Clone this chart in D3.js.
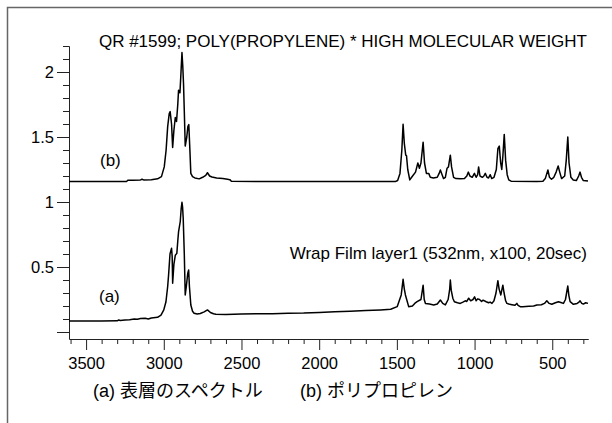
<!DOCTYPE html>
<html>
<head>
<meta charset="utf-8">
<script src="https://cdn.jsdelivr.net/npm/d3@7"></script>
<style>
  body { margin: 0; background: #fff; }
  text { font-family: "Liberation Sans", Arial, "Noto Sans CJK JP", sans-serif; fill: #000; }
</style>
</head>
<body>
<div id="chart"></div>
<script>
// (b) reference spectrum, QR #1599 polypropylene (offset upward)
var wavenumbersB = [3610, 3300, 3240, 3230, 3200, 3150, 3140, 3130, 3080, 3040, 3015, 2997, 2985, 2975, 2965, 2959, 2950, 2943, 2935, 2926, 2918, 2910, 2905, 2896, 2890, 2883, 2878, 2873, 2868, 2862, 2852, 2845, 2839, 2832, 2826, 2815, 2800, 2772, 2750, 2730, 2719, 2705, 2690, 2660, 2620, 2590, 2575, 2565, 2400, 2000, 1510, 1495, 1480, 1468, 1460, 1452, 1443, 1438, 1430, 1417, 1405, 1380, 1365, 1355, 1345, 1331, 1322, 1310, 1295, 1285, 1265, 1240, 1228, 1220, 1212, 1200, 1188, 1177, 1168, 1156, 1148, 1135, 1120, 1090, 1065, 1050, 1040, 1030, 1015, 1001, 990, 980, 974, 965, 950, 940, 931, 920, 910, 899, 890, 875, 860, 850, 841, 832, 825, 818, 809, 800, 790, 780, 765, 600, 560, 545, 528, 518, 505, 490, 475, 462, 452, 440, 420, 410, 400, 392, 380, 365, 345, 330, 321, 312, 300, 270];
var intensityB = [1.157, 1.157, 1.158, 1.168, 1.168, 1.170, 1.175, 1.170, 1.172, 1.178, 1.195, 1.27, 1.40, 1.58, 1.68, 1.695, 1.60, 1.42, 1.55, 1.65, 1.62, 1.75, 1.86, 1.84, 1.98, 2.15, 2.05, 1.91, 1.70, 1.43, 1.50, 1.58, 1.595, 1.40, 1.22, 1.195, 1.185, 1.178, 1.19, 1.205, 1.225, 1.20, 1.192, 1.185, 1.18, 1.175, 1.172, 1.160, 1.157, 1.157, 1.157, 1.165, 1.22, 1.40, 1.598, 1.45, 1.36, 1.356, 1.25, 1.17, 1.19, 1.23, 1.30, 1.26, 1.30, 1.46, 1.30, 1.22, 1.22, 1.19, 1.185, 1.19, 1.22, 1.246, 1.22, 1.18, 1.19, 1.26, 1.27, 1.36, 1.27, 1.19, 1.18, 1.178, 1.18, 1.20, 1.23, 1.20, 1.19, 1.22, 1.19, 1.21, 1.27, 1.20, 1.19, 1.20, 1.22, 1.19, 1.185, 1.21, 1.18, 1.19, 1.25, 1.41, 1.43, 1.30, 1.25, 1.35, 1.52, 1.32, 1.21, 1.17, 1.16, 1.157, 1.16, 1.18, 1.246, 1.19, 1.175, 1.19, 1.23, 1.277, 1.23, 1.18, 1.20, 1.32, 1.50, 1.30, 1.19, 1.17, 1.165, 1.20, 1.23, 1.19, 1.165, 1.162];

// (a) measured spectrum, wrap film surface layer
var wavenumbersA = [3610, 3400, 3300, 3290, 3280, 3250, 3220, 3190, 3170, 3150, 3120, 3100, 3080, 3040, 3018, 3000, 2986, 2975, 2969, 2960, 2950, 2946, 2943, 2935, 2926, 2916, 2910, 2905, 2894, 2888, 2883, 2879, 2875, 2868, 2862, 2855, 2846, 2840, 2835, 2826, 2815, 2805, 2785, 2765, 2740, 2719, 2700, 2680, 2665, 2600, 2500, 2400, 2300, 2200, 2100, 2000, 1900, 1800, 1700, 1605, 1540, 1498, 1472, 1460, 1452, 1445, 1424, 1400, 1385, 1370, 1345, 1331, 1324, 1316, 1290, 1263, 1240, 1220, 1205, 1188, 1170, 1160, 1156, 1150, 1140, 1130, 1110, 1092, 1075, 1060, 1050, 1038, 1025, 1010, 1000, 990, 980, 968, 955, 945, 925, 910, 900, 888, 875, 862, 850, 842, 831, 825, 818, 810, 800, 792, 780, 760, 740, 728, 720, 706, 690, 650, 620, 599, 570, 550, 535, 520, 503, 480, 460, 440, 428, 415, 400, 393, 385, 364, 340, 328, 321, 310, 300, 285, 270];
var intensityA = [0.085, 0.085, 0.086, 0.092, 0.088, 0.092, 0.095, 0.100, 0.098, 0.104, 0.105, 0.100, 0.108, 0.113, 0.13, 0.17, 0.233, 0.35, 0.44, 0.60, 0.644, 0.58, 0.375, 0.52, 0.59, 0.605, 0.70, 0.77, 0.85, 0.95, 0.998, 0.96, 0.875, 0.60, 0.285, 0.35, 0.45, 0.477, 0.35, 0.208, 0.16, 0.144, 0.138, 0.142, 0.155, 0.17, 0.150, 0.140, 0.136, 0.135, 0.138, 0.140, 0.141, 0.145, 0.146, 0.150, 0.155, 0.160, 0.165, 0.170, 0.175, 0.195, 0.285, 0.405, 0.33, 0.285, 0.195, 0.20, 0.22, 0.233, 0.25, 0.36, 0.25, 0.22, 0.215, 0.208, 0.215, 0.246, 0.22, 0.208, 0.25, 0.33, 0.40, 0.32, 0.26, 0.233, 0.225, 0.22, 0.23, 0.24, 0.235, 0.26, 0.24, 0.25, 0.27, 0.24, 0.255, 0.25, 0.235, 0.245, 0.233, 0.225, 0.23, 0.22, 0.24, 0.30, 0.395, 0.33, 0.285, 0.32, 0.36, 0.30, 0.24, 0.22, 0.215, 0.21, 0.205, 0.22, 0.205, 0.195, 0.195, 0.198, 0.20, 0.208, 0.21, 0.22, 0.24, 0.22, 0.213, 0.225, 0.233, 0.225, 0.22, 0.25, 0.354, 0.28, 0.233, 0.213, 0.22, 0.23, 0.24, 0.22, 0.215, 0.225, 0.22];

var xMajorTicks = [3500, 3000, 2500, 2000, 1500, 1000, 500];
var xMinorTicks = [3600, 3400, 3300, 3200, 3100, 2900, 2800, 2700, 2600, 2400, 2300, 2200, 2100, 1900, 1800, 1700, 1600, 1400, 1300, 1200, 1100, 900, 800, 700, 600, 400, 300];
var yMajorTicks = [0, 0.5, 1, 1.5, 2];
var yMinorTicks = [0.1, 0.2, 0.3, 0.4, 0.6, 0.7, 0.8, 0.9, 1.1, 1.2, 1.3, 1.4, 1.6, 1.7, 1.8, 1.9, 2.1, 2.2];

var titleText = "QR #1599; POLY(PROPYLENE) * HIGH MOLECULAR WEIGHT";
var sampleText = "Wrap Film layer1 (532nm, x100, 20sec)";
var captions = ["(a) 表層のスペクトル", "(b) ポリプロピレン"];

var width = 612, height = 423;

var svg = d3.select("#chart")
  .append("svg")
    .attr("width", width)
    .attr("height", height);

// outer frame (only top and left edges fall inside the picture)
svg.append("rect")
    .attr("x", 7.5).attr("y", 7.5)
    .attr("width", 700).attr("height", 600)
    .attr("fill", "none")
    .attr("stroke", "#666")
    .attr("stroke-width", 1.5);

var x = d3.scaleLinear()
          .domain([3610, 270])
          .range([69, 588]);

var y = d3.scaleLinear()
          .domain([-0.05, 2.2])
          .range([338.5, 46]);

// x axis: minor then major ticks
svg.append("g")
   .attr("transform", "translate(0,339)")
   .call(d3.axisBottom(x).tickValues(xMinorTicks).tickSize(5).tickSizeOuter(0).tickFormat(""));
svg.append("g")
   .attr("transform", "translate(0,339)")
   .call(d3.axisBottom(x).tickValues(xMajorTicks).tickSize(11).tickSizeOuter(0).tickPadding(7)
          .tickFormat(d3.format("d")));

// y axis
svg.append("g")
   .attr("transform", "translate(69,0)")
   .call(d3.axisLeft(y).tickValues(yMinorTicks).tickSize(6).tickSizeOuter(0).tickFormat(""));
svg.append("g")
   .attr("transform", "translate(69,0)")
   .call(d3.axisLeft(y).tickValues(yMajorTicks).tickSize(12).tickSizeOuter(0).tickPadding(3)
          .tickFormat(function(d) { return d === 0 ? "" : d3.format("")(d); }));

svg.selectAll(".tick text")
   .attr("font-size", "16.5px")
   .style("font-family", '"Liberation Sans", Arial, sans-serif');
svg.selectAll(".domain, .tick line").attr("stroke", "#222");

var line = d3.line()
  .x(function(d) { return x(d[0]); })
  .y(function(d) { return y(d[1]); });

svg.append("path")
   .datum(d3.zip(wavenumbersB, intensityB))
   .attr("fill", "none")
   .attr("stroke", "#000")
   .attr("stroke-width", 1.5)
   .attr("stroke-linejoin", "round")
   .attr("d", line);

svg.append("path")
   .datum(d3.zip(wavenumbersA, intensityA))
   .attr("fill", "none")
   .attr("stroke", "#000")
   .attr("stroke-width", 1.5)
   .attr("stroke-linejoin", "round")
   .attr("d", line);

// annotations
svg.append("text")
   .attr("x", 587).attr("y", 47)
   .attr("text-anchor", "end")
   .attr("font-size", "17px")
   .text(titleText);

svg.append("text")
   .attr("x", 587).attr("y", 259)
   .attr("text-anchor", "end")
   .attr("font-size", "17px")
   .text(sampleText);

svg.append("text")
   .attr("x", 100).attr("y", 166)
   .attr("font-size", "17px")
   .text("(b)");

svg.append("text")
   .attr("x", 99).attr("y", 302)
   .attr("font-size", "17px")
   .text("(a)");

svg.selectAll(".caption")
   .data(captions).enter()
   .append("text")
   .attr("class", "caption")
   .attr("x", function(d, i) { return i === 0 ? 93 : 300; })
   .attr("y", 397)
   .attr("font-size", "18px")
   .text(function(d) { return d; });
</script>
</body>
</html>
